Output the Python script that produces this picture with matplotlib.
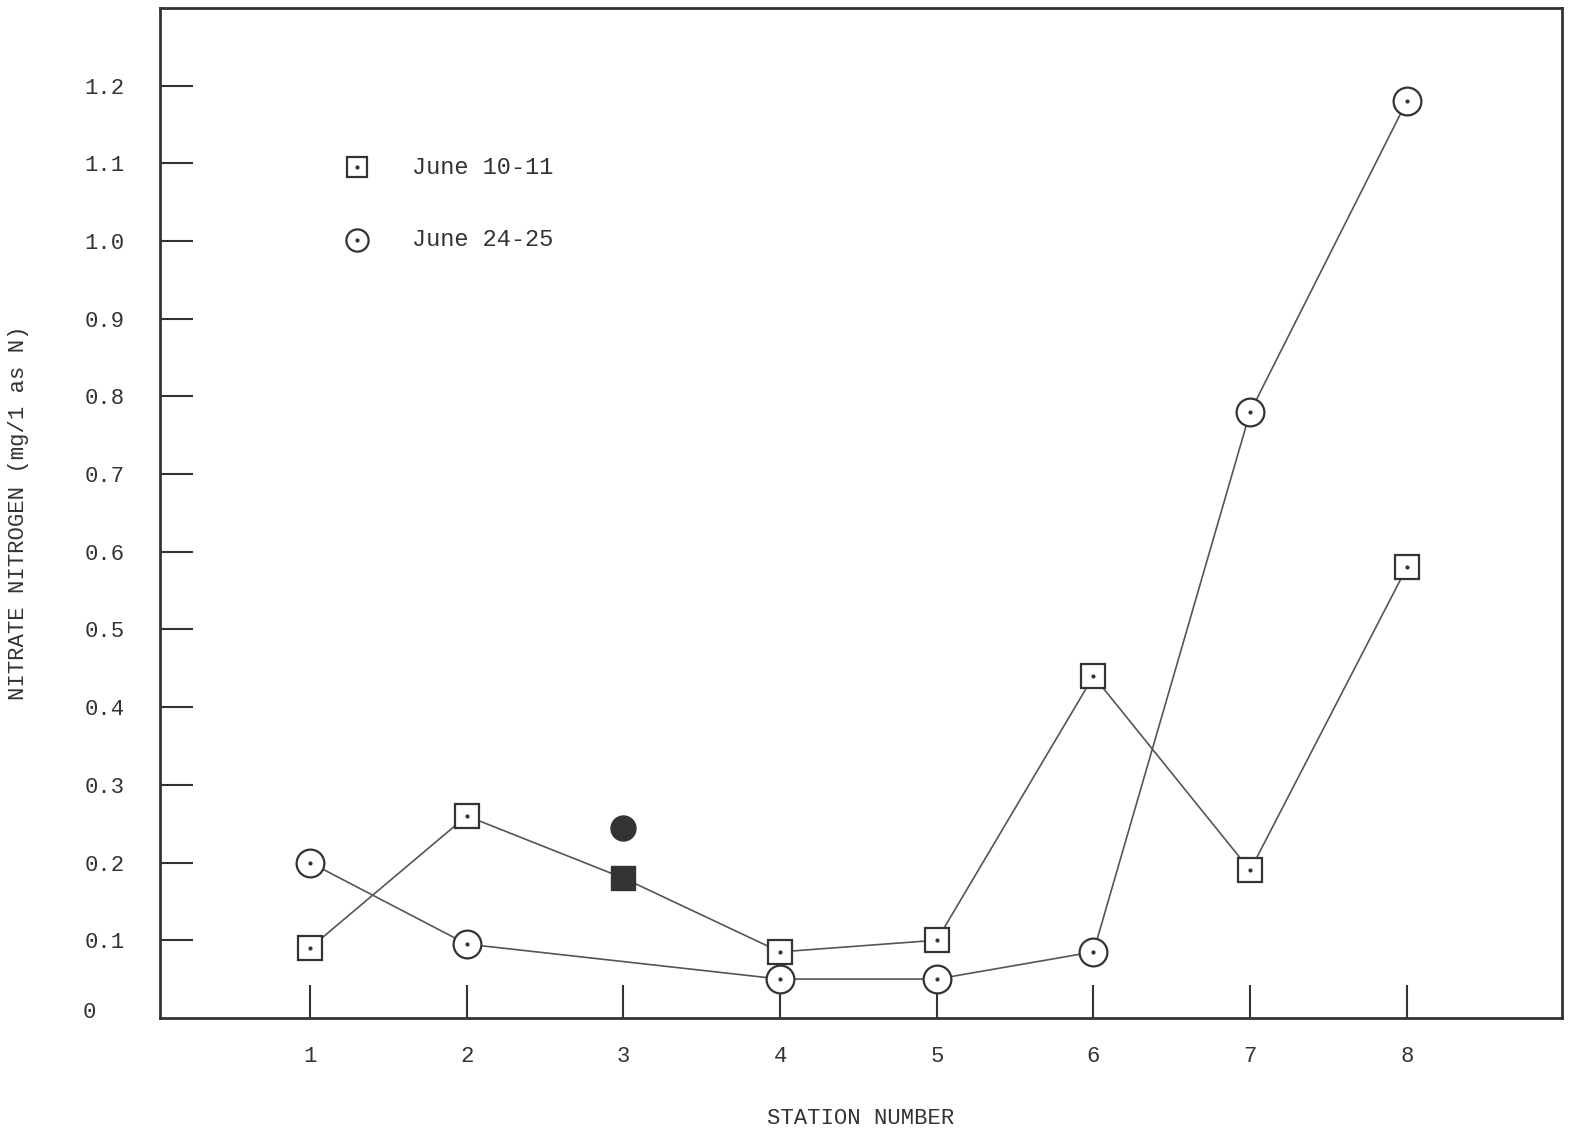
import matplotlib.pyplot as plt

stations = [1, 2, 3, 4, 5, 6, 7, 8]
june10 = [0.09, 0.26, 0.18, 0.085, 0.10, 0.44, 0.19, 0.58]
june24 = [0.20, 0.095, 0.245, 0.05, 0.05, 0.085, 0.78, 1.18]
yticks = [0.1, 0.2, 0.3, 0.4, 0.5, 0.6, 0.7, 0.8, 0.9, 1.0, 1.1, 1.2]

plt.rcParams['font.family'] = ['Liberation Mono', 'DejaVu Sans Mono']

fig = plt.figure(figsize=(15.8, 11.45), dpi=100)
ax = fig.add_axes([0.101, 0.111, 0.8876, 0.882])

# squares (station 3 is a filled point)
ax.plot(stations, june10, color='#555555', lw=1.2, zorder=1)
for s, v in zip(stations, june10):
    if s == 3:
        ax.plot(s, v, marker='s', ms=17, color='#333333', zorder=3)
    else:
        ax.plot(s, v, marker='s', ms=17, mfc='white', mec='#333333', mew=1.6, zorder=3)
        ax.plot(s, v, marker='.', ms=4, color='#333333', zorder=4)

# circles, station 3 not on the line
line_x = [s for s in stations if s != 3]
line_y = [v for s, v in zip(stations, june24) if s != 3]
ax.plot(line_x, line_y, color='#555555', lw=1.2, zorder=1)
for s, v in zip(stations, june24):
    if s == 3:
        ax.plot(s, v, marker='o', ms=18, color='#333333', zorder=3)
    else:
        ax.plot(s, v, marker='o', ms=20, mfc='white', mec='#333333', mew=1.6, zorder=3)
        ax.plot(s, v, marker='.', ms=4, color='#333333', zorder=4)

# legend
ax.plot(1.3, 1.095, marker='s', ms=14, mfc='white', mec='#333333', mew=1.6)
ax.plot(1.3, 1.095, marker='.', ms=4, color='#333333')
ax.plot(1.3, 1.002, marker='o', ms=16, mfc='white', mec='#333333', mew=1.6)
ax.plot(1.3, 1.002, marker='.', ms=4, color='#333333')
ax.text(1.65, 1.095, 'June 10-11', fontsize=17, va='center', color='#333333')
ax.text(1.65, 1.002, 'June 24-25', fontsize=17, va='center', color='#333333')

ax.set_xlim(0.04, 8.99)
ax.set_ylim(0, 1.30)
ax.set_xticks(stations)
ax.set_yticks(yticks)
ax.set_yticklabels(['%.1f' % t for t in yticks])
ax.tick_params(direction='in', length=24, width=1.5, labelsize=16, colors='#333333')
ax.tick_params(axis='x', pad=20)
ax.tick_params(axis='y', pad=25)
ax.text(-0.45, 0.007, '0', fontsize=16, color='#333333', va='center')
for sp in ax.spines.values():
    sp.set_linewidth(2)
    sp.set_color('#333333')

ax.set_xlabel('STATION NUMBER', fontsize=16, color='#333333', labelpad=30)
ax.set_ylabel('NITRATE NITROGEN (mg/1 as N)', fontsize=16, color='#333333', labelpad=40)

fig.savefig('out.png', dpi=100)
